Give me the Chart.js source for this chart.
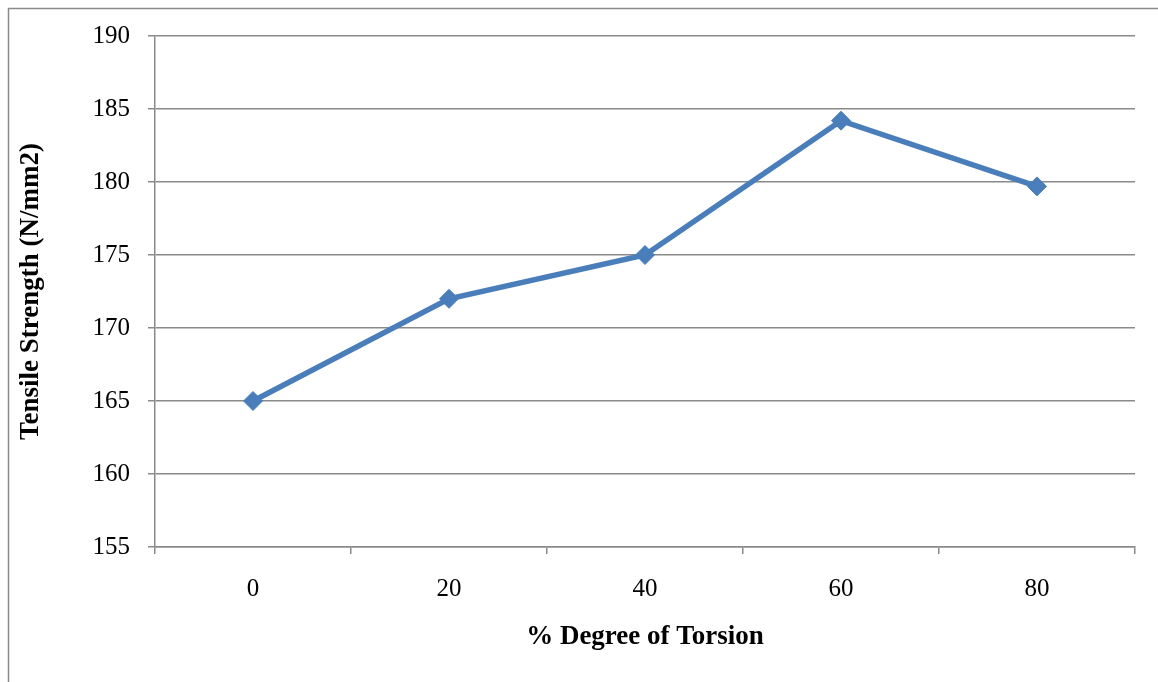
<!DOCTYPE html>
<html>
<head>
<meta charset="utf-8">
<script src="https://cdn.jsdelivr.net/npm/chart.js@4"></script>
<style>
  html, body { margin: 0; padding: 0; background: #fff; }
  #wrap { width: 1158px; height: 682px; }
</style>
</head>
<body>
<div id="wrap"><canvas id="chart" width="1158" height="682"></canvas></div>
<script>
  // data
  const torsion = ['0', '20', '40', '60', '80'];
  const strength = [165, 172, 175, 184.2, 179.7];
  const yMin = 155, yMax = 190, yStep = 5;

  const xTitle = '% Degree of Torsion';
  const yTitle = 'Tensile Strength (N/mm2)';

  const gridGrey = '#8a8a8a';
  const lineBlue = '#4a7ebb';

  // outer frame, like the Excel chart border
  const frame = {
    id: 'frame',
    beforeDraw(chart) {
      const ctx = chart.ctx;
      ctx.save();
      ctx.fillStyle = '#fff';
      ctx.fillRect(0, 0, chart.width, chart.height);
      ctx.strokeStyle = gridGrey;
      ctx.lineWidth = 1.5;
      ctx.strokeRect(8.5, 8.5, chart.width + 20, chart.height + 20);
      ctx.restore();
    }
  };

  new Chart(document.getElementById('chart'), {
    type: 'line',
    data: {
      labels: torsion,
      datasets: [{
        data: strength,
        borderColor: lineBlue,
        backgroundColor: lineBlue,
        borderWidth: 5.5,
        pointStyle: 'rectRot',
        pointRadius: 9.5,
        pointHoverRadius: 9.5,
        pointBorderWidth: 1,
        tension: 0
      }]
    },
    options: {
      responsive: false,
      animation: false,
      layout: { padding: { top: 36, right: 23, left: 0, bottom: 0 } },
      plugins: { legend: { display: false }, tooltip: { enabled: false } },
      scales: {
        x: {
          offset: true,
          grid: { offset: true, drawOnChartArea: false, drawTicks: true, tickLength: 7, color: gridGrey, lineWidth: 1.5 },
          border: { color: gridGrey, width: 1.5 },
          ticks: { color: '#000', padding: 20, font: { family: 'Liberation Serif', size: 25 } },
          title: {
            display: true, text: xTitle, color: '#000',
            font: { family: 'Liberation Serif', size: 27, weight: 'bold' },
            padding: { top: 0, bottom: 29 }
          },
          afterFit(scale) { scale.height = 135; }
        },
        y: {
          min: yMin, max: yMax,
          grid: { color: gridGrey, lineWidth: 1.5, tickLength: 7 },
          border: { color: gridGrey, width: 1.5 },
          ticks: { stepSize: yStep, color: '#000', padding: 18, font: { family: 'Liberation Serif', size: 25 } },
          title: {
            display: true, text: yTitle, color: '#000',
            font: { family: 'Liberation Serif', size: 27, weight: 'bold' },
            padding: { top: 15, bottom: 0 }
          },
          afterFit(scale) { scale.width = 155; }
        }
      }
    },
    plugins: [frame]
  });
</script>
</body>
</html>
